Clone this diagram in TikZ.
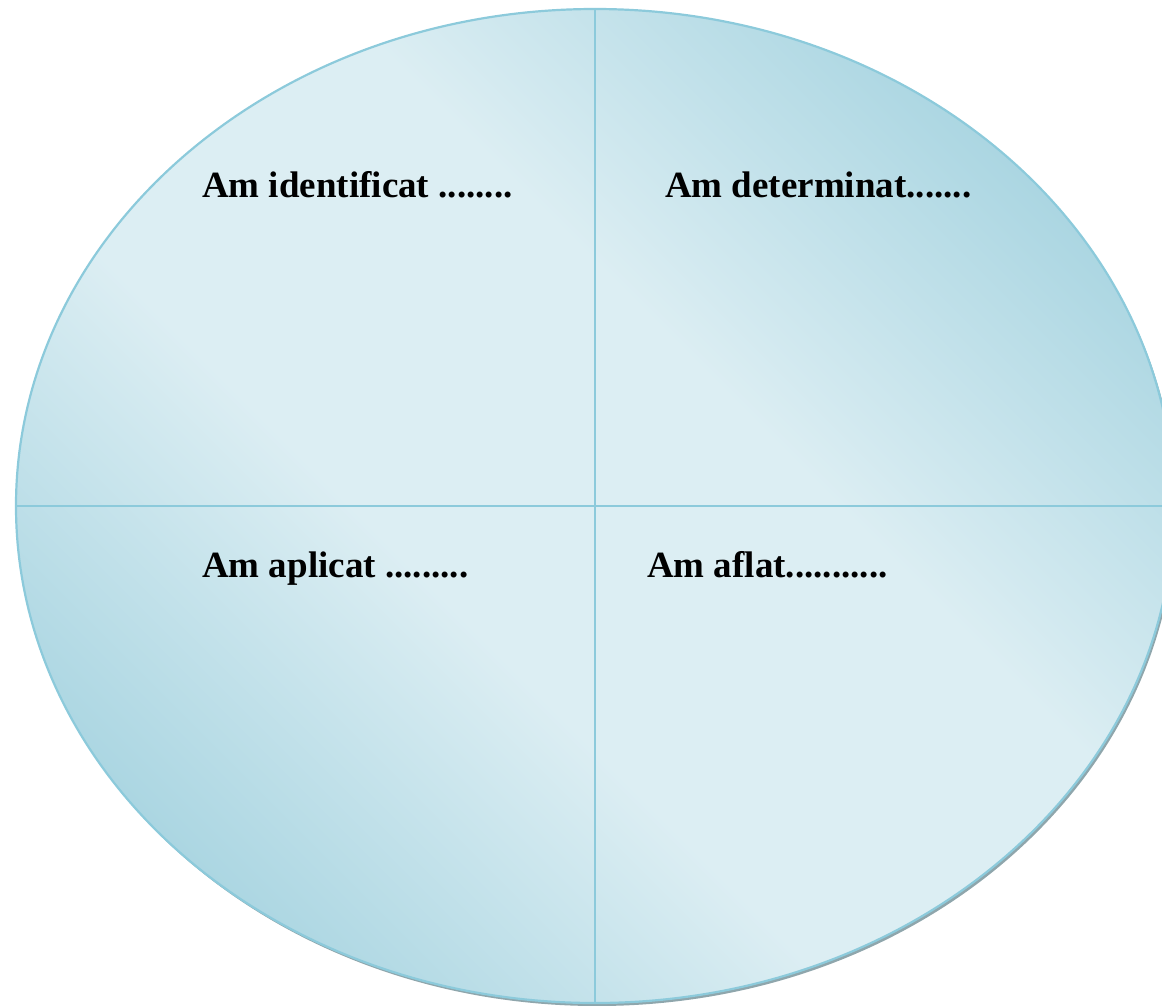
\documentclass[tikz,border=0pt]{standalone}
\usepackage{fontspec}
\setmainfont{Liberation Serif}
\usetikzlibrary{shapes.geometric}
\definecolor{edgeblue}{HTML}{8CCADB}
\definecolor{darkfill}{HTML}{A3D2DF}
\definecolor{lightfill}{HTML}{DCEEF3}
\definecolor{shadowgray}{HTML}{8FA6AC}
\pgfdeclareverticalshading{bandshade}{100bp}{color(0bp)=(darkfill); color(22bp)=(darkfill); color(42bp)=(lightfill); color(58bp)=(lightfill); color(78bp)=(darkfill); color(100bp)=(darkfill)}
\tikzset{
  oval/.style={ellipse, inner sep=0pt, minimum width=1158pt, minimum height=994pt},
  label/.style={anchor=base west, inner sep=0pt, font=\fontsize{37}{44}\selectfont\bfseries},
  divider/.style={draw=edgeblue, line width=2.2pt}
}
\begin{document}
\begin{tikzpicture}[x=1pt,y=-1pt]
\useasboundingbox (0,0) rectangle (1162,1005);
\node[oval, fill=shadowgray] (sh) at (597,509) {};
\node[oval, draw=edgeblue, line width=2.2pt, shading=bandshade, shading angle=-45] (e) at (595,506) {};
\draw[divider] (e.north) -- (e.south);
\draw[divider] (e.west) -- (e.east);
\node[label] (t1) at (202,197) {Am identificat ........};
\node[label] (t2) at (665,197) {Am determinat.......};
\node[label] (t3) at (202,577) {Am aplicat .........};
\node[label] (t4) at (647,577) {Am aflat...........};
\end{tikzpicture}
\end{document}
